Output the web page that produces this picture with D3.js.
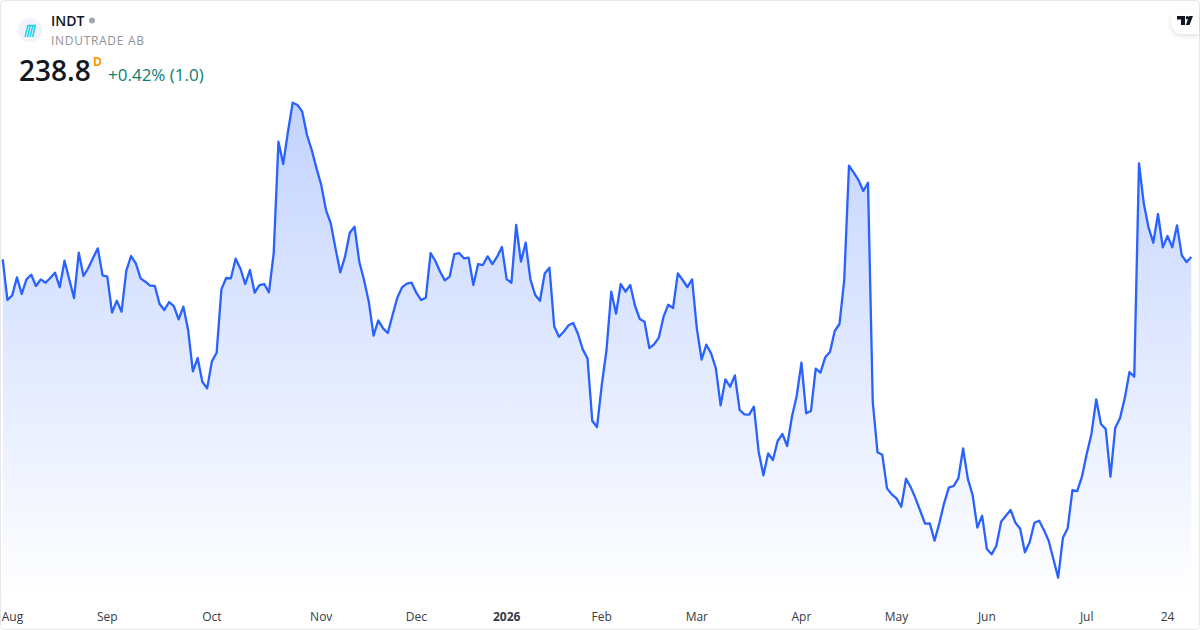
<!DOCTYPE html>
<html>
<head>
<meta charset="utf-8">
<title>INDT</title>
<script src="https://cdn.jsdelivr.net/npm/d3@7"></script>
<style>
 html, body { margin: 0; padding: 0; background: #fff; }
 svg { display: block; font-family: "Open Sans", "Noto Sans", sans-serif; }
</style>
</head>
<body>
<svg id="graph" width="1200" height="630"></svg>
<script>
// daily closes, one per trading day
const closes = [
 238.22,228.05,229.22,233.72,229.55,233.22,234.38,231.55,233.22,232.38,
 233.55,234.88,231.22,237.88,233.22,228.55,239.88,234.05,236.05,238.55,
 240.97,234.22,233.88,224.88,227.88,225.13,235.38,239.05,237.22,233.47,
 232.63,231.63,231.55,227.05,225.55,227.55,226.55,223.22,226.38,220.55,
 210.22,213.55,207.55,205.97,212.72,214.88,230.72,233.55,233.47,238.38,
 235.88,232.05,235.55,229.88,231.8,232.05,229.97,239.72,267.63,262.05,
 270.13,277.38,276.8,275.13,269.3,265.55,260.97,256.8,250.55,247.22,
 240.97,234.97,238.88,244.88,246.38,237.63,233.05,227.63,219.13,222.97,
 220.97,219.8,224.3,228.63,231.22,232.13,232.38,229.88,228.05,228.63,
 239.8,237.8,235.13,232.97,233.88,239.55,239.8,238.47,238.63,231.8,
 237.05,236.8,238.97,237.05,238.88,241.3,233.22,232.38,246.8,237.63,
 242.38,233.13,229.3,227.85,234.68,236.13,221.45,218.88,220.13,221.72,
 222.3,219.55,215.72,213.47,197.88,196.3,206.8,215.55,230.13,224.63,
 232.05,230.13,231.8,226.55,223.3,222.63,216.05,216.97,218.63,223.88,
 226.88,226.05,234.72,233.05,231.3,233.22,220.97,213.13,216.88,214.72,
 210.97,201.72,208.22,206.38,209.22,200.55,199.47,199.38,201.38,190.13,
 184.22,189.72,188.05,192.8,194.55,191.55,198.88,204.05,212.38,199.72,
 200.3,210.88,209.88,213.72,215.05,220.3,222.05,233.05,261.63,259.88,
 258.05,255.3,257.38,202.63,189.97,189.38,180.97,179.47,178.47,176.38,
 183.38,181.22,178.47,175.3,172.13,172.22,167.88,172.22,177.22,181.13,
 181.55,183.47,190.93,183.35,179.3,171.13,174.13,165.8,164.47,166.63,
 172.63,174.13,175.55,172.38,170.88,164.97,167.47,172.38,172.88,170.55,
 167.88,163.22,158.63,168.63,170.97,180.55,180.3,183.88,189.55,194.55,
 203.22,197.05,195.8,183.88,196.13,198.47,203.47,210.05,208.88,262.22,
 252.22,246.22,242.38,249.55,241.22,244.05,241.22,246.72,239.22,237.55,
 238.8
];
// position of each month label in trading days from the first close
const tickDays = [0, 22, 44, 67, 87, 106, 126, 146, 168, 188, 207, 228, 245];
const tickLabels = ["Aug", "Sep", "Oct", "Nov", "Dec", "2026", "Feb", "Mar", "Apr", "May", "Jun", "Jul", "24"];

const symbol = "INDT";
const company = "INDUTRADE AB";
const lastPrice = "238.8";
const interval = "D";
const change = "+0.42% (1.0)";

const width = 1200;
const height = 630;
const lineColor = "#2962ff";

let svg = d3.select("#graph");

// frame
svg.append("rect")
 .attr("x", 0.5).attr("y", 0.5)
 .attr("width", width - 1).attr("height", height - 1)
 .attr("rx", 4)
 .attr("fill", "#fff")
 .attr("stroke", "#e8e8ea");

let scaleX = d3.scaleLinear()
 .domain([0, closes.length - 1])
 .range([2.7, 1191.3]);

let scaleY = d3.scaleLinear()
 .domain([158.63, 277.38])
 .range([577.7, 102.7]);

// area fill, fades out towards the time axis
let defs = svg.append("defs");
let grad = defs.append("linearGradient")
 .attr("id", "fade")
 .attr("gradientUnits", "userSpaceOnUse")
 .attr("x1", 0).attr("y1", 102)
 .attr("x2", 0).attr("y2", 600);
grad.append("stop").attr("offset", 0).attr("stop-color", lineColor).attr("stop-opacity", 0.28);
grad.append("stop").attr("offset", 1).attr("stop-color", lineColor).attr("stop-opacity", 0);

let area = d3.area()
 .x((d, i) => scaleX(i))
 .y0(600)
 .y1(d => scaleY(d));

let line = d3.line()
 .x((d, i) => scaleX(i))
 .y(d => scaleY(d));

svg.append("path")
 .datum(closes)
 .attr("d", area)
 .attr("fill", "url(#fade)");

svg.append("path")
 .datum(closes)
 .attr("d", line)
 .attr("fill", "none")
 .attr("stroke", lineColor)
 .attr("stroke-width", 2.3)
 .attr("stroke-linejoin", "round");

// time axis
let axisX = d3.axisBottom(scaleX)
 .tickValues(tickDays)
 .tickSize(0)
 .tickPadding(0)
 .tickFormat((d, i) => tickLabels[i]);

let axisG = svg.append("g")
 .attr("transform", "translate(0, 612.5)")
 .call(axisX);
axisG.select(".domain").remove();
axisG.selectAll("text")
 .attr("font-family", "'Open Sans', sans-serif")
 .attr("font-size", 12)
 .attr("fill", "#363a45")
 .attr("font-weight", d => d == 106 ? 700 : 400)
 .attr("text-anchor", d => d == 0 ? "start" : "middle")
 .attr("x", d => d == 0 ? -1.5 : -0.5);

// header
svg.append("circle").attr("cx", 30).attr("cy", 30).attr("r", 12).attr("fill", "#f0f3fa");
let logo = svg.append("g")
 .attr("stroke", "#1fd0ea")
 .attr("stroke-width", 1.5)
 .attr("fill", "none");
[26.5, 29, 31.5, 34].forEach(function(x, i) {
 logo.append("line")
  .attr("x1", x - 1.4).attr("y1", 37)
  .attr("x2", x + 1.4).attr("y2", 25);
});
logo.append("line").attr("x1", 28).attr("y1", 25.5).attr("x2", 36).attr("y2", 25.5);

svg.append("text")
 .attr("x", 51).attr("y", 26)
 .attr("font-size", 14).attr("font-weight", 600)
 .attr("fill", "#131722")
 .text(symbol);
svg.append("circle").attr("cx", 92).attr("cy", 20.5).attr("r", 3).attr("fill", "#a3a6af");
svg.append("text")
 .attr("x", 51).attr("y", 45)
 .attr("font-size", 12)
 .attr("letter-spacing", 0.7)
 .attr("fill", "#8f929b")
 .text(company);
svg.append("text")
 .attr("x", 19).attr("y", 81)
 .attr("font-size", 28).attr("font-weight", 600)
 .attr("fill", "#131722")
 .text(lastPrice);
svg.append("text")
 .attr("x", 93).attr("y", 66)
 .attr("font-size", 12).attr("font-weight", 700)
 .attr("fill", "#ff9800")
 .text(interval);
svg.append("text")
 .attr("x", 108).attr("y", 81)
 .attr("font-size", 17)
 .attr("fill", "#0b8070")
 .text(change);

// tradingview badge
let shadow = defs.append("filter").attr("id", "soft")
 .attr("x", "-30%").attr("y", "-30%").attr("width", "160%").attr("height", "180%");
shadow.append("feDropShadow")
 .attr("dx", 0).attr("dy", 2).attr("stdDeviation", 2.5)
 .attr("flood-color", "#000").attr("flood-opacity", 0.12);
svg.append("path")
 .attr("d", "M1199 10H1183a12 12 0 0 0 0 24H1199Z")
 .attr("fill", "#fff")
 .attr("filter", "url(#soft)");
svg.append("path")
 .attr("d", "M1177 16H1185V25H1181V19.5H1177Z M1193 16L1189.5 25H1185.8L1189.3 16Z")
 .attr("fill", "#131722");
svg.append("circle").attr("cx", 1187.4).attr("cy", 17.8).attr("r", 1.7).attr("fill", "#131722");
</script>
</body>
</html>
